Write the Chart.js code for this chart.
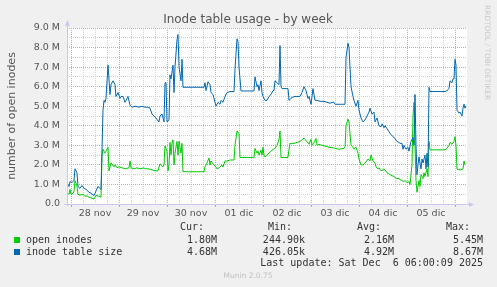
<!DOCTYPE html>
<html>
<head>
<meta charset="utf-8">
<script src="https://cdn.jsdelivr.net/npm/chart.js@4/dist/chart.umd.min.js"></script>
<style>
  html, body { margin: 0; padding: 0; background: #f0f0f0; }
  canvas { display: block; }
</style>
</head>
<body>
<canvas id="inodeChart" width="497" height="287"></canvas>
<script>
// x = 30-minute slot since Nov 27 22:00 (400 slots = one week graph), y = millions
const dayLabels = ['28 nov', '29 nov', '30 nov', '01 dic', '02 dic', '03 dic', '04 dic', '05 dic'];
const firstMidnight = 4;  // slot of 28 nov 00:00
const firstNoon = 28;     // slot of 28 nov 12:00
const slotsPerDay = 48;

const tableSlots = [0,2,3,5,7,8,10,11,13,15,17,19,22,24,27,28,31,32,34,36,37,38,39,41,43,44,46,48,49,51,53,54,56,58,59,61,63,65,68,72,75,78,81,83,85,87,89,91,92,93,95,97,98,99,100,102,103,104,106,107,108,110,111,112,114,115,116,137,138,139,141,143,144,146,148,149,151,153,154,156,158,160,163,167,168,170,171,172,174,187,188,190,191,192,194,195,196,198,200,202,204,206,207,208,210,212,213,214,215,221,222,225,228,230,233,235,237,239,241,242,244,246,248,250,253,257,260,263,265,267,268,272,278,279,281,282,284,286,287,289,291,292,294,296,298,300,302,303,305,307,308,310,312,314,315,317,318,320,322,323,325,327,328,330,332,333,335,336,337,339,341,342,344,346,347,348,349,350,351,352,354,355,356,358,359,360,361,362,363,378,380,382,383,385,386,387,388,389,390,392,393,395,396,397,398,399];
const tableSize = [1.1,0.9,1.15,1.1,1.2,1.8,1.6,0.9,0.8,0.95,0.8,0.75,0.6,0.55,0.43,0.55,0.9,0.85,0.75,4.8,5.3,5.2,5.4,7.1,5.6,6.1,6.3,6.1,5.5,5.7,5.4,5.5,5.5,5.2,5.3,5.5,5.05,4.95,5.0,4.95,5.0,4.95,4.95,4.9,4.6,4.5,4.4,4.25,4.2,4.5,4.6,4.2,6.2,6.2,4.2,4.3,6.6,6.4,7.1,5.7,7.0,8.4,8.67,7.0,6.3,7.4,5.97,5.97,6.2,5.8,6.25,6.1,5.7,5.6,5.2,5.0,5.2,5.1,5.3,5.2,5.5,5.7,5.75,5.75,6.9,8.45,8.3,7.0,5.78,5.78,6.5,6.0,6.1,5.8,6.3,5.7,5.5,5.3,5.3,5.5,5.6,5.8,5.8,6.3,6.2,6.1,8.1,6.0,5.9,5.9,5.3,5.45,5.5,5.5,5.5,5.7,6.0,5.8,5.4,5.5,5.1,5.9,5.3,5.3,5.25,5.25,5.2,5.15,5.2,5.2,5.1,5.1,5.1,7.5,8.22,8.0,6.0,5.5,5.3,5.0,5.3,4.8,4.4,4.2,4.3,4.5,4.7,4.9,4.6,4.7,4.2,4.4,4.0,3.95,4.1,3.9,4.0,3.85,3.7,3.6,3.5,3.4,3.35,3.2,3.15,3.1,3.1,2.8,3.0,2.8,2.9,2.7,3.2,3.4,3.0,5.6,3.0,1.5,2.0,2.4,1.8,2.3,2.1,2.5,1.8,2.6,1.9,5.97,5.75,5.75,5.8,5.9,6.3,6.2,6.4,6.4,7.4,7.1,4.8,4.65,4.7,4.5,4.9,5.1,4.9,5.0];

const openSlots = [0,2,3,4,6,7,8,10,11,13,16,18,20,22,25,27,29,32,34,35,36,38,39,41,42,44,45,47,48,50,52,55,58,62,63,64,67,70,73,77,78,81,85,88,91,93,94,96,97,98,100,101,102,103,104,105,106,107,108,110,111,112,114,115,116,137,138,140,142,143,144,146,148,150,152,154,155,156,158,160,163,167,168,170,172,173,187,188,190,191,192,194,195,196,197,198,200,202,205,208,210,212,213,214,221,222,223,227,230,233,237,238,240,242,244,245,247,249,250,252,255,259,262,265,268,272,277,278,279,281,282,284,286,287,289,291,292,294,296,298,299,301,303,304,306,308,309,311,312,314,316,318,320,322,323,325,327,328,330,332,333,335,337,338,340,342,343,345,346,347,348,349,350,352,353,354,356,357,358,360,361,362,363,378,380,382,383,385,387,388,389,390,392,394,396,397,398];
const openInodes = [0.55,0.5,0.75,0.5,0.55,0.65,1.2,0.9,0.5,0.45,0.5,0.4,0.42,0.35,0.3,0.25,0.45,0.4,0.35,2.5,2.8,2.6,2.7,2.9,1.7,2.1,2.05,1.9,2.0,1.85,1.9,1.85,1.8,1.85,2.2,1.85,1.8,1.85,1.8,1.85,1.8,1.8,1.75,1.7,1.7,2.05,2.0,1.9,2.0,2.97,2.7,1.7,2.0,3.15,2.5,3.1,3.28,2.0,2.6,3.2,2.5,3.2,2.6,3.1,1.65,1.65,1.9,2.1,2.35,2.0,2.2,2.05,1.95,1.8,1.85,1.95,2.0,1.9,2.2,2.2,2.25,2.25,3.0,3.74,3.6,2.38,2.38,2.84,2.6,2.7,2.5,2.75,2.5,2.9,2.5,2.4,2.5,2.6,2.75,2.85,3.0,3.3,3.74,2.38,2.38,2.8,3.1,3.1,3.15,3.2,3.37,3.3,3.2,3.05,3.3,3.0,3.15,3.35,3.0,3.05,3.0,2.95,2.9,2.88,2.85,2.8,2.85,2.9,4.0,4.34,4.2,3.0,2.9,2.8,2.9,2.6,2.3,2.0,2.0,2.1,2.15,2.3,2.2,2.5,2.2,2.1,1.9,1.8,1.85,1.7,1.75,1.75,1.6,1.55,1.5,1.45,1.4,1.35,1.3,1.3,1.25,1.2,1.15,1.2,1.1,1.15,1.0,2.0,4.5,5.2,3.0,1.2,0.6,1.2,0.9,1.5,1.3,1.6,1.4,1.8,1.4,3.2,2.77,2.77,2.85,3.0,3.15,3.05,3.2,3.44,3.0,1.78,1.75,1.75,1.8,2.2,2.0];

const seriesNames = ['open inodes', 'inode table size'];
const seriesColors = ['#00cc00', '#0066b3'];
const statHeaders = ['Cur:', 'Min:', 'Avg:', 'Max:'];
const statValues = [
  ['1.80M', '244.90k', '2.16M', '5.45M'],
  ['4.68M', '426.05k', '4.92M', '8.67M']
];
const titleText = 'Inode table usage - by week';
const lastUpdate = 'Last update: Sat Dec  6 06:00:09 2025';

Chart.defaults.font.family = '"DejaVu Sans", sans-serif';

// 背景、軸、圖例都自己畫（Munin 的樣子）
const muninPlugin = {
  id: 'munin',
  beforeDraw(chart) {
    const { ctx, chartArea: a } = chart;
    ctx.save();
    ctx.fillStyle = '#f0f0f0';
    ctx.fillRect(0, 0, chart.width, chart.height);
    ctx.fillStyle = '#ffffff';
    ctx.fillRect(a.left, a.top, a.right - a.left, a.bottom - a.top);
    ctx.restore();
  },
  afterDraw(chart) {
    const { ctx, chartArea: a } = chart;
    const xs = chart.scales.x;
    ctx.save();

    // small ticks under the x axis at midnight
    ctx.strokeStyle = '#e09090';
    ctx.lineWidth = 1;
    for (let v = firstMidnight; v < 400; v += slotsPerDay) {
      const px = Math.round(xs.getPixelForValue(v)) + 0.5;
      ctx.beginPath(); ctx.moveTo(px, a.bottom); ctx.lineTo(px, a.bottom + 3); ctx.stroke();
    }

    // axes with arrows
    ctx.strokeStyle = '#c8c8f0';
    ctx.fillStyle = '#c8c8f0';
    ctx.beginPath();
    ctx.moveTo(a.left + 0.5, a.bottom + 2); ctx.lineTo(a.left + 0.5, a.top - 4);
    ctx.moveTo(a.left - 3, a.bottom + 0.5); ctx.lineTo(a.right + 3, a.bottom + 0.5);
    ctx.stroke();
    ctx.beginPath();
    ctx.moveTo(a.left - 2, a.top - 2); ctx.lineTo(a.left + 3, a.top - 2); ctx.lineTo(a.left + 0.5, a.top - 8);
    ctx.closePath(); ctx.fill();
    ctx.beginPath();
    ctx.moveTo(a.right + 2, a.bottom - 2); ctx.lineTo(a.right + 2, a.bottom + 3); ctx.lineTo(a.right + 7, a.bottom + 0.5);
    ctx.closePath(); ctx.fill();

    // title
    ctx.fillStyle = '#555';
    ctx.font = '12px "DejaVu Sans"';
    ctx.textAlign = 'center';
    ctx.textBaseline = 'alphabetic';
    ctx.fillText(titleText, 248, 22.5);

    // rrdtool credit
    ctx.save();
    ctx.translate(487, 5);
    ctx.rotate(Math.PI / 2);
    ctx.fillStyle = '#c8c8c8';
    ctx.font = '7.4px "DejaVu Sans"';
    ctx.textAlign = 'left';
    ctx.textBaseline = 'middle';
    ctx.fillText('RRDTOOL / TOBI OETIKER', 0, 0);
    ctx.restore();

    // legend
    ctx.font = '10px "DejaVu Sans Mono"';
    ctx.textBaseline = 'middle';
    ctx.fillStyle = '#333';
    const headRight = [204, 292, 381, 470];
    const valRight = [217, 305, 394, 483];
    ctx.textAlign = 'right';
    statHeaders.forEach((h, i) => ctx.fillText(h, headRight[i], 227.5));
    seriesNames.forEach((name, r) => {
      const y = 240 + r * 12;
      ctx.fillStyle = seriesColors[r];
      ctx.fillRect(14, y - 3, 6, 6);
      ctx.fillStyle = '#333';
      ctx.textAlign = 'left';
      ctx.fillText(name, 26, y);
      ctx.textAlign = 'right';
      statValues[r].forEach((s, i) => ctx.fillText(s, valRight[i], y));
    });
    ctx.fillText(lastUpdate, 483, 263.5);

    ctx.fillStyle = '#c0c0c0';
    ctx.font = '7.5px "DejaVu Sans"';
    ctx.textAlign = 'center';
    ctx.fillText('Munin 2.0.75', 248, 276);
    ctx.restore();
  }
};

const ctx = document.getElementById('inodeChart').getContext('2d');
new Chart(ctx, {
  type: 'line',
  data: {
    datasets: [
      {
        label: seriesNames[0],
        data: openSlots.map((s, i) => ({ x: s, y: openInodes[i] })),
        borderColor: seriesColors[0],
        borderWidth: 1,
        pointRadius: 0,
        order: 1
      },
      {
        label: seriesNames[1],
        data: tableSlots.map((s, i) => ({ x: s, y: tableSize[i] })),
        borderColor: seriesColors[1],
        borderWidth: 1,
        pointRadius: 0,
        order: 0
      }
    ]
  },
  options: {
    responsive: false,
    devicePixelRatio: 1,
    animation: false,
    events: [],
    layout: { padding: { left: 0, right: 30, top: 28, bottom: 0 } },
    plugins: { legend: { display: false }, title: { display: false }, tooltip: { enabled: false } },
    scales: {
      x: {
        type: 'linear',
        min: 0,
        max: 400,
        afterBuildTicks(scale) {
          const t = [];
          for (let v = firstMidnight; v < 400; v += 12) t.push({ value: v });
          scale.ticks = t;
        },
        afterFit(scale) { scale.height = 83; },
        grid: {
          drawTicks: false,
          color: c => ((c.tick.value - firstMidnight) % slotsPerDay === 0 ? '#e8a0a0' : '#d0d0d0'),
          borderDash: [1, 1]
        },
        border: { display: false, dash: [1, 1] },
        ticks: {
          autoSkip: false,
          maxRotation: 0,
          padding: 4,
          color: '#555',
          font: { size: 9.5 },
          callback: v => {
            const k = (v - firstNoon) / slotsPerDay;
            return Number.isInteger(k) && k >= 0 && k < dayLabels.length ? dayLabels[k] : '';
          }
        }
      },
      y: {
        min: 0,
        max: 9,
        afterFit(scale) { scale.width = 67; },
        grid: {
          drawTicks: false,
          color: c => (Math.abs(c.tick.value - Math.round(c.tick.value)) < 1e-6 ? '#e8a0a0' : '#d0d0d0'),
          borderDash: [1, 1]
        },
        border: { display: false, dash: [1, 1] },
        title: {
          display: true,
          text: 'number of open inodes',
          color: '#555',
          font: { size: 11 },
          padding: { top: 6, bottom: 0 }
        },
        ticks: {
          stepSize: 0.5,
          autoSkip: false,
          padding: 7,
          color: '#555',
          font: { size: 9.5 },
          callback: v => {
            if (Math.abs(v - Math.round(v)) > 1e-6) return '';
            return v === 0 ? '0.0' : v.toFixed(1) + ' M';
          }
        }
      }
    }
  },
  plugins: [muninPlugin]
});
</script>
</body>
</html>
